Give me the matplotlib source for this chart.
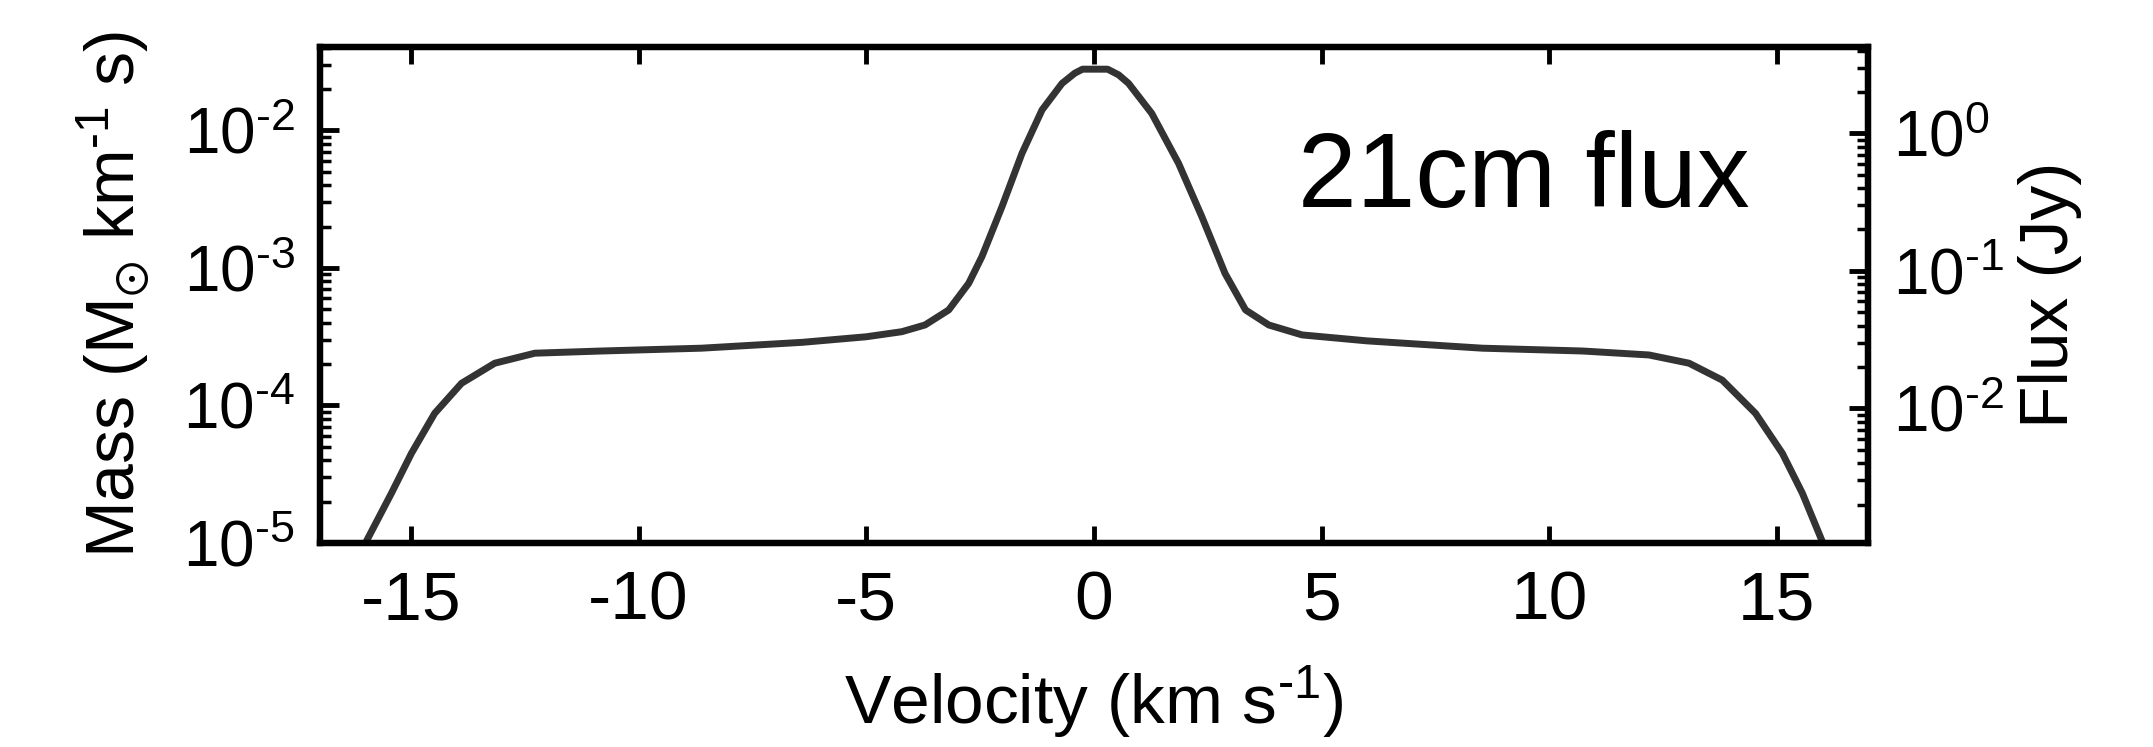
import matplotlib
matplotlib.use("Agg")
import matplotlib.pyplot as plt
from matplotlib.ticker import FixedLocator, LogLocator, NullFormatter

plt.rcParams['font.family'] = ['Liberation Sans', 'DejaVu Sans']
plt.rcParams['mathtext.fontset'] = 'custom'
plt.rcParams['mathtext.rm'] = 'Liberation Sans'
plt.rcParams['mathtext.it'] = 'Liberation Sans:italic'
plt.rcParams['mathtext.fallback'] = 'stixsans'
plt.rcParams['axes.unicode_minus'] = False

# 读图得到的谱线轮廓 (km/s, Msun/(km/s))
velocity = [-16.05, -15.43, -14.99, -14.48, -13.89, -13.16, -12.28, -10.81,
            -8.62, -6.4, -5.0, -4.22, -3.71, -3.19, -2.75, -2.46, -2.02,
            -1.58, -1.14, -0.70, -0.42, -0.25, 0.30, 0.54, 0.76, 1.27, 1.86,
            2.37, 2.88, 3.33, 3.84, 4.57, 6.0, 8.53, 10.73, 12.19, 13.07,
            13.80, 14.53, 15.12, 15.56, 16.05]
mass = [9.3e-6, 2.30e-5, 4.49e-5, 8.77e-5, 1.45e-4, 2.03e-4, 2.40e-4, 2.49e-4,
        2.61e-4, 2.88e-4, 3.16e-4, 3.44e-4, 3.85e-4, 4.95e-4, 7.74e-4, 1.21e-3,
        2.79e-3, 6.82e-3, 1.41e-2, 2.20e-2, 2.61e-2, 2.79e-2, 2.79e-2, 2.54e-2,
        2.20e-2, 1.33e-2, 5.75e-3, 2.36e-3, 9.12e-4, 4.95e-4, 3.85e-4, 3.26e-4,
        2.95e-4, 2.61e-4, 2.49e-4, 2.33e-4, 2.03e-4, 1.53e-4, 8.77e-5, 4.49e-5,
        2.30e-5, 9.3e-6]

HY = '\u2010'  # 上标里用短横线
x_ticks = [-15, -10, -5, 0, 5, 10, 15]
mass_ticks = [1e-5, 1e-4, 1e-3, 1e-2]
mass_labels = [r'$\mathregular{10^{%s5}}$' % HY, r'$\mathregular{10^{%s4}}$' % HY,
               r'$\mathregular{10^{%s3}}$' % HY, r'$\mathregular{10^{%s2}}$' % HY]
flux_ticks = [1e-2, 1e-1, 1e0]
flux_labels = [r'$\mathregular{10^{%s2}}$' % HY, r'$\mathregular{10^{%s1}}$' % HY,
               r'$\mathregular{10^{0}}$']
flux_per_mass = 105.0

fig = plt.figure(figsize=(21.53, 7.47), dpi=100)
ax = fig.add_axes([0.1486, 0.2731, 0.8676 - 0.1486, 0.9371 - 0.2731])

ax.plot(velocity, mass, color='#333333', linewidth=5, solid_joinstyle='round')
ax.set_yscale('log')
ax.set_xlim(-17, 17)
ax.set_ylim(1e-5, 10 ** -1.393)

ax.set_xticks(x_ticks)
ax.set_xticklabels([str(t) for t in x_ticks])
ax.yaxis.set_major_locator(FixedLocator(mass_ticks))
ax.set_yticklabels(mass_labels)
ax.yaxis.set_minor_locator(LogLocator(base=10, subs=range(2, 10), numticks=20))
ax.yaxis.set_minor_formatter(NullFormatter())

for s in ax.spines.values():
    s.set_linewidth(4.5)

ax.tick_params(axis='x', which='major', direction='in', top=True, bottom=True,
               length=12, width=3.5, labelsize=50, pad=19)
ax.tick_params(axis='y', which='major', direction='in', right=False,
               length=14, width=3.5, labelsize=46, pad=18)
ax.tick_params(axis='y', which='minor', direction='in', right=False,
               length=8, width=2.5)

ax.set_xlabel(r'Velocity (km s$^{\mathregular{%s1}}$)' % HY, fontsize=50, labelpad=22)
ax.set_ylabel(r'Mass (M$_{\odot}$ km$^{\mathregular{%s1}}$ s)' % HY, fontsize=49,
              labelpad=23)

ax2 = ax.twinx()
ax2.set_yscale('log')
lo, hi = ax.get_ylim()
ax2.set_ylim(lo * flux_per_mass, hi * flux_per_mass)
ax2.yaxis.set_major_locator(FixedLocator(flux_ticks))
ax2.set_yticklabels(flux_labels)
ax2.yaxis.set_minor_locator(LogLocator(base=10, subs=range(2, 10), numticks=20))
ax2.yaxis.set_minor_formatter(NullFormatter())
ax2.tick_params(axis='y', which='major', direction='in', length=14, width=3.5,
                labelsize=46, pad=18)
ax2.tick_params(axis='y', which='minor', direction='in', length=8, width=2.5)
ax2.set_ylabel('Flux (Jy)', fontsize=50, labelpad=10)
for s in ax2.spines.values():
    s.set_linewidth(4.5)

ax.text(0.632, 0.677, '21cm flux', transform=ax.transAxes, fontsize=76,
        ha='left', va='baseline')

fig.savefig('out.png', dpi=100)
